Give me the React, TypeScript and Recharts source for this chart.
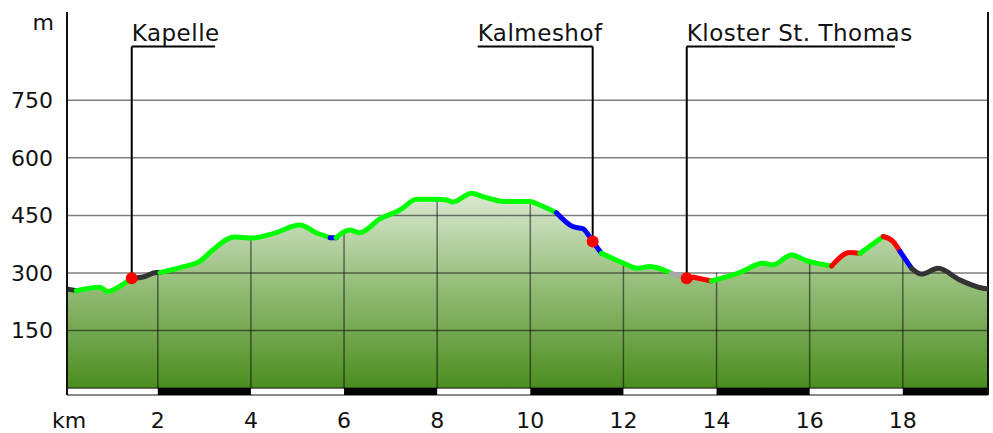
import React from 'react';
import {
    ComposedChart,
    Area,
    Line,
    XAxis,
    YAxis,
    ReferenceLine,
    ReferenceArea,
    ReferenceDot
} from 'recharts';

// distance along the route (km)
const km = [
    0.05, 0.25, 0.75, 0.93, 1.11, 1.44, 1.70, 1.97, 2.05, 2.54, 2.90, 3.18, 3.65, 4.02, 4.51, 5.05,
    5.41, 5.70, 5.83, 6.12, 6.34, 6.77, 7.20, 7.56, 7.99, 8.20, 8.34, 8.74, 8.98, 9.49, 9.99, 10.20,
    10.56, 10.91, 11.13, 11.34, 11.53, 11.92, 12.31, 12.57, 13.03, 13.36, 13.50, 13.89, 14.50, 15.00,
    15.21, 15.61, 15.93, 16.47, 16.86, 17.08, 17.58, 17.79, 17.94, 18.19, 18.40, 18.76, 19.22, 19.72, 19.83
];

// elevation (m)
const elev = [
    258, 254, 263, 251, 260, 286, 290, 301, 301, 316, 330, 360, 394, 391, 404, 425,
    404, 392, 392, 412, 405, 441, 464, 492, 492, 490, 485, 508, 499, 486, 486, 477,
    457, 421, 415, 382, 351, 330, 312, 317, 299, 286, 289, 279, 301, 325,
    321, 347, 332, 318, 353, 351, 395, 382, 356, 312, 297, 312, 282, 260, 258
];

// surface type of the stretch that starts at each point
// g = path, k = road, b = trail, r = steep, l = unknown
const surface = [
    'k', 'g', 'g', 'g', 'g', 'k', 'k', 'k', 'g', 'g', 'g', 'g', 'g', 'g', 'g', 'g',
    'g', 'b', 'g', 'g', 'g', 'g', 'g', 'g', 'g', 'g', 'g', 'g', 'g', 'g', 'g', 'g',
    'b', 'b', 'b', 'b', 'g', 'g', 'g', 'g', 'l', 'k', 'r', 'g', 'g', 'g',
    'g', 'g', 'g', 'r', 'r', 'g', 'r', 'r', 'b', 'k', 'k', 'k', 'k', 'k', 'k'
];

const surfaceColors: Record<string, string> = {
    g: '#00ff00',
    k: '#333333',
    b: '#0000ff',
    r: '#ff0000',
    l: '#a8a8a8'
};

const yTicks = [150, 300, 450, 600, 750];
const xTicks = [2, 4, 6, 8, 10, 12, 14, 16, 18];
// elevation of the profile above each km tick
const tickElev = [301, 391, 404, 492, 486, 326, 301, 331, 345];
// km stretches drawn black in the scale strip
const stripBlack = [[2, 4], [6, 8], [10, 12], [14, 16], [18, 19.83]];

const waypointNames = ['Kapelle', 'Kalmeshof', 'Kloster St. Thomas'];
const waypointKm = [1.44, 11.34, 13.36];
const waypointElev = [286, 382, 286];

const X_MIN = 0.05;
const X_MAX = 19.83;
const Y_MIN = -18;
const Y_MAX = 980;
const LABEL_Y = 890;
// other end of each label's underline (km)
const underlineEnd = [3.23, 8.87, 17.83];

const font = { fontFamily: 'DejaVu Sans', fontSize: 22, fill: '#111' };
const labelFont = { fontFamily: 'DejaVu Sans', fontSize: 23, fill: '#111', letterSpacing: 0.5 };
const gridStroke = 'rgba(0,0,0,0.5)';

const data = km.map((k, i) => ({ km: k, elev: elev[i] }));

// split the profile into runs of equal surface, each drawn as its own line
const runs: { color: string; points: { km: number; elev: number }[] }[] = [];
for (let i = 0; i < km.length - 1; i++) {
    const c = surface[i];
    const last = runs[runs.length - 1];
    if (last && last.color === c) {
        last.points.push(data[i + 1]);
    } else {
        runs.push({ color: c, points: [data[i], data[i + 1]] });
    }
}

export default function App() {
    return (
        <div style={{ width: 993, height: 433 }}>
            <style>{'body{margin:0}'}</style>
            <ComposedChart
                width={993}
                height={433}
                data={data}
                margin={{ top: 12, right: 5, left: 0, bottom: 0 }}
            >
                <defs>
                    <linearGradient id="hill" x1="0" y1="0" x2="0" y2="1">
                        <stop offset="0%" stopColor="#dbe9d3" />
                        <stop offset="45%" stopColor="#98bf7d" />
                        <stop offset="100%" stopColor="#4b8d1f" />
                    </linearGradient>
                </defs>
                <XAxis
                    dataKey="km"
                    type="number"
                    domain={[X_MIN, X_MAX]}
                    ticks={xTicks}
                    height={38}
                    axisLine={false}
                    tickLine={false}
                    tickSize={0}
                    tickMargin={17}
                    tick={font}
                    allowDataOverflow
                    label={({ viewBox }: any) => (
                        <text x={viewBox.x - 15} y={viewBox.y + 33} {...font} textAnchor="start">
                            km
                        </text>
                    )}
                />
                <YAxis
                    type="number"
                    domain={[Y_MIN, Y_MAX]}
                    ticks={yTicks}
                    width={67}
                    axisLine={{ stroke: '#111', strokeWidth: 2 }}
                    tickLine={false}
                    tickSize={0}
                    tickMargin={14}
                    tick={font}
                    allowDataOverflow
                    label={({ viewBox }: any) => (
                        <text x={viewBox.x + viewBox.width - 13} y={viewBox.y + 18} {...font} textAnchor="end">
                            m
                        </text>
                    )}
                />
                <Area
                    dataKey="elev"
                    type="monotone"
                    stroke="none"
                    fill="url(#hill)"
                    fillOpacity={1}
                    baseValue={0}
                    isAnimationActive={false}
                />
                {yTicks.map((v) => (
                    <ReferenceLine key={'h' + v} y={v} stroke={gridStroke} strokeWidth={1.5} />
                ))}
                {xTicks.map((t, i) => (
                    <ReferenceLine
                        key={'v' + t}
                        segment={[{ x: t, y: 0 }, { x: t, y: tickElev[i] }]}
                        stroke={gridStroke}
                        strokeWidth={1.5}
                    />
                ))}
                <ReferenceArea
                    x1={X_MIN}
                    x2={X_MAX}
                    y1={Y_MIN}
                    y2={0}
                    fill="#ffffff"
                    fillOpacity={1}
                    stroke="#111"
                    strokeWidth={1}
                    ifOverflow="visible"
                />
                {stripBlack.map(([a, b]) => (
                    <ReferenceArea
                        key={'s' + a}
                        x1={a}
                        x2={b}
                        y1={Y_MIN}
                        y2={0}
                        fill="#000"
                        fillOpacity={1}
                        ifOverflow="visible"
                    />
                ))}
                <ReferenceLine
                    segment={[{ x: X_MAX, y: Y_MIN }, { x: X_MAX, y: Y_MAX }]}
                    stroke="#111"
                    strokeWidth={2}
                    ifOverflow="visible"
                />
                {runs.map((run, i) => (
                    <Line
                        key={'run' + i}
                        data={run.points}
                        dataKey="elev"
                        type="monotone"
                        stroke={surfaceColors[run.color]}
                        strokeWidth={5}
                        strokeLinecap="round"
                        strokeLinejoin="round"
                        dot={false}
                        activeDot={false}
                        isAnimationActive={false}
                    />
                ))}
                {waypointNames.map((name, i) => (
                    <ReferenceLine
                        key={'wv' + i}
                        segment={[
                            { x: waypointKm[i], y: waypointElev[i] },
                            { x: waypointKm[i], y: LABEL_Y }
                        ]}
                        stroke="#000"
                        strokeWidth={2}
                    />
                ))}
                {waypointNames.map((name, i) => (
                    <ReferenceLine
                        key={'wh' + i}
                        segment={[
                            { x: waypointKm[i], y: LABEL_Y },
                            { x: underlineEnd[i], y: LABEL_Y }
                        ]}
                        stroke="#000"
                        strokeWidth={2}
                        label={({ viewBox }: any) => (
                            <text x={viewBox.x} y={viewBox.y - 6} {...labelFont} textAnchor="start">
                                {name}
                            </text>
                        )}
                    />
                ))}
                {waypointNames.map((name, i) => (
                    <ReferenceDot
                        key={'wd' + i}
                        x={waypointKm[i]}
                        y={waypointElev[i]}
                        r={6}
                        fill="#ff0000"
                        stroke="none"
                    />
                ))}
            </ComposedChart>
        </div>
    );
}
